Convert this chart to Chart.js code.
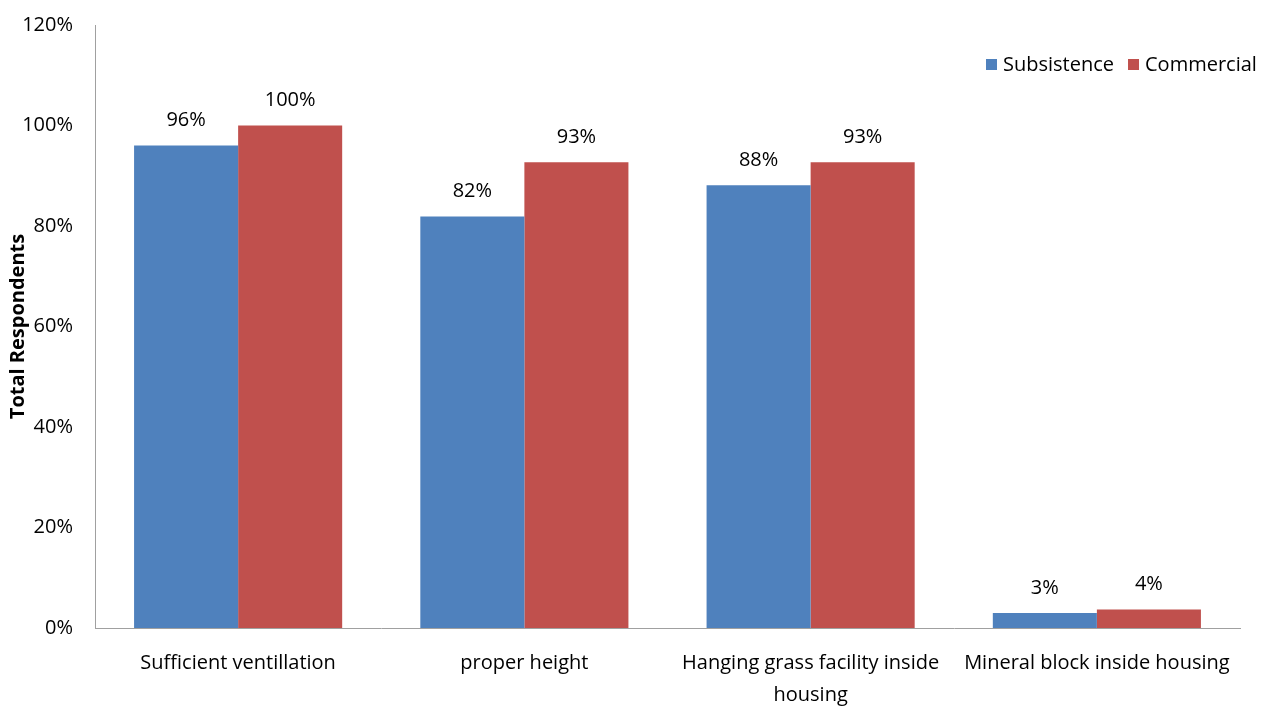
<!DOCTYPE html>
<html>
<head>
<meta charset="utf-8">
<script src="https://cdn.jsdelivr.net/npm/chart.js@4/dist/chart.umd.min.js"></script>
<style>
  html, body { margin: 0; padding: 0; background: #fff; }
  #wrap { width: 1269px; height: 708px; position: relative; }
</style>
</head>
<body>
<div id="wrap"><canvas id="housingChart"></canvas></div>
<script>
// categories and series
const categories = [
  'Sufficient ventillation',
  'proper height',
  ['Hanging grass facility inside', 'housing'],
  'Mineral block inside housing'
];
const subsistence = [96, 81.9, 88.1, 3.0];
const commercial = [100, 92.7, 92.7, 3.7];
const seriesNames = ['Subsistence', 'Commercial'];
const seriesColors = ['#4F81BD', '#C0504D'];
const yTicks = [0, 20, 40, 60, 80, 100, 120];

const FONT = "'Open Sans', 'Liberation Sans', sans-serif";

// value labels above every bar
const barLabels = {
  id: 'barLabels',
  afterDatasetsDraw(chart) {
    const ctx = chart.ctx;
    ctx.save();
    ctx.font = '20px ' + FONT;
    ctx.fillStyle = '#000';
    ctx.textAlign = 'center';
    ctx.textBaseline = 'middle';
    chart.data.datasets.forEach((ds, i) => {
      chart.getDatasetMeta(i).data.forEach((bar, j) => {
        ctx.fillText(Math.round(ds.data[j]) + '%', bar.x, bar.y - 25);
      });
    });
    ctx.restore();
  }
};

// legend sits inside the plot, top right
const cornerLegend = {
  id: 'cornerLegend',
  afterDraw(chart) {
    const ctx = chart.ctx;
    ctx.save();
    ctx.font = '20px ' + FONT;
    ctx.textBaseline = 'middle';
    let x = 986;
    const y = 65;
    chart.data.datasets.forEach(ds => {
      ctx.fillStyle = ds.backgroundColor;
      ctx.fillRect(x, y - 6, 11, 11);
      ctx.fillStyle = '#000';
      ctx.fillText(ds.label, x + 17, y);
      x += 17 + ctx.measureText(ds.label).width + 14;
    });
    ctx.restore();
  }
};

new Chart(document.getElementById('housingChart'), {
  type: 'bar',
  data: {
    labels: categories,
    datasets: [
      { label: seriesNames[0], data: subsistence, backgroundColor: seriesColors[0] },
      { label: seriesNames[1], data: commercial, backgroundColor: seriesColors[1] }
    ]
  },
  options: {
    responsive: true,
    maintainAspectRatio: false,
    animation: false,
    layout: { padding: { top: 25, right: 29, left: 0, bottom: 0 } },
    plugins: {
      legend: { display: false },
      tooltip: { enabled: false }
    },
    datasets: {
      bar: { categoryPercentage: 0.727, barPercentage: 1.0 }
    },
    scales: {
      x: {
        grid: { display: false, drawTicks: false },
        border: { color: '#A0A0A0', width: 1 },
        ticks: {
          color: '#000',
          font: { family: FONT, size: 20, lineHeight: 1.6 },
          padding: 19,
          maxRotation: 0,
          autoSkip: false
        },
        afterFit(scale) {
          scale.height = 80;
          scale.paddingLeft = 0;
          scale.paddingRight = 0;
        }
      },
      y: {
        min: 0,
        max: 120,
        afterBuildTicks(scale) { scale.ticks = yTicks.map(v => ({ value: v })); },
        grid: { display: false, drawTicks: false },
        border: { color: '#A0A0A0', width: 1 },
        ticks: {
          color: '#000',
          font: { family: FONT, size: 20 },
          padding: 22,
          callback: v => v + '%'
        },
        title: {
          display: true,
          text: 'Total Respondents',
          color: '#000',
          font: { family: FONT, size: 20, weight: 'bold' },
          padding: { top: 6, bottom: 0 }
        },
        afterFit(scale) {
          scale.width = 95;
          scale.paddingTop = 0;
          scale.paddingBottom = 0;
        }
      }
    }
  },
  plugins: [barLabels, cornerLegend]
});
</script>
</body>
</html>
